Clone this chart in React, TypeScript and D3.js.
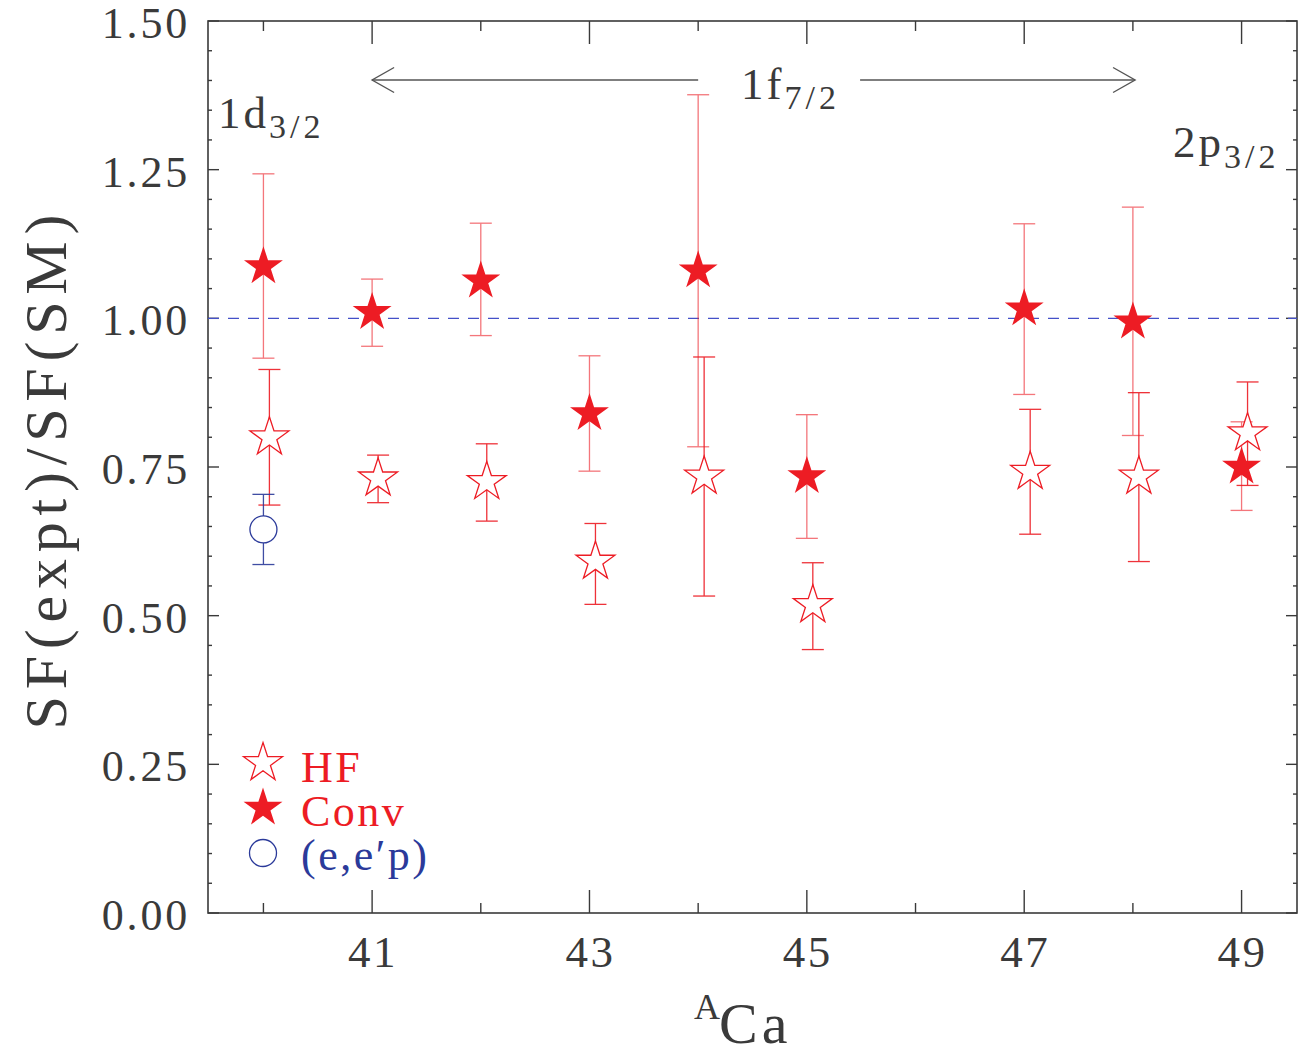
import React from "react";
import * as d3 from "d3";

// mass numbers of the Ca isotopes
const masses = [40, 41, 42, 43, 44, 45, 47, 48, 49];

// HF (open stars)
const hfValues = [0.8, 0.731, 0.725, 0.591, 0.734, 0.518, 0.742, 0.734, 0.807];
const hfLow = [0.686, 0.69, 0.659, 0.519, 0.533, 0.443, 0.637, 0.591, 0.719];
const hfHigh = [0.914, 0.77, 0.789, 0.655, 0.935, 0.589, 0.847, 0.875, 0.893];

// Conv (filled stars)
const convValues = [1.087, 1.01, 1.063, 0.84, 1.08, 0.734, 1.016, 0.994, 0.75];
const convLow = [0.933, 0.953, 0.971, 0.743, 0.784, 0.63, 0.872, 0.803, 0.677];
const convHigh = [1.243, 1.066, 1.16, 0.937, 1.376, 0.838, 1.159, 1.187, 0.826];

// (e,e'p)
const eepMasses = [40];
const eepValues = [0.645];
const eepLow = [0.586];
const eepHigh = [0.704];

const yTickLabels = [0, 0.25, 0.5, 0.75, 1.0, 1.25, 1.5];
const xTickLabels = [41, 43, 45, 47, 49];
const xMinorTicks = [40, 42, 44, 46, 48];

const W = 1309, H = 1055;
const margin = { top: 21, right: 12, bottom: 142, left: 208 };
const RED = "#ed1c24";
const BLUE = "#2b3a9a";
const INK = "#3a3a3a";
const FONT = "'Liberation Serif', serif";

export default function App() {
  const x = d3.scaleLinear().domain([39.49, 49.51]).range([margin.left, W - margin.right]);
  const y = d3.scaleLinear().domain([0, 1.5]).range([H - margin.bottom, margin.top]);
  const x0 = x.range()[0], x1 = x.range()[1];
  const y0 = y.range()[0], y1 = y.range()[1];

  const hfShift = 0.055; // open stars sit a little to the right
  const starPath = d3.symbol(d3.symbolStar, 470)() as string;
  const capW = 11;

  const yMinor = d3.range(0, 1.5001, 0.05);
  const isMajorY = (v: number) => Math.abs(v / 0.25 - Math.round(v / 0.25)) < 1e-6;

  const errBar = (cx: number, lo: number, hi: number, color: string, key: string, op = 0.85) => (
    <g key={key} stroke={color} strokeWidth={1.3} opacity={op}>
      <line x1={cx} x2={cx} y1={y(lo)} y2={y(hi)} />
      <line x1={cx - capW} x2={cx + capW} y1={y(lo)} y2={y(lo)} />
      <line x1={cx - capW} x2={cx + capW} y1={y(hi)} y2={y(hi)} />
    </g>
  );

  const arrowY = 80;
  const chev = (tx: number, dir: number) =>
    `M${tx + dir * 22},${arrowY - 12.5}L${tx},${arrowY}L${tx + dir * 22},${arrowY + 12.5}`;

  return (
    <div style={{ position: "absolute", left: 0, top: 0 }}>
      <svg width={W} height={H} style={{ display: "block", background: "#fff" }} fontFamily={FONT}>
        {/* frame */}
        <rect x={x0} y={y1} width={x1 - x0} height={y0 - y1} fill="none" stroke={INK} strokeWidth={1.6} />

        {/* y ticks, left and right */}
        {yMinor.map((v, i) => {
          const len = isMajorY(v) ? 11 : 4;
          return (
            <g key={"yt" + i} stroke={INK} strokeWidth={1.4}>
              <line x1={x0} x2={x0 + len} y1={y(v)} y2={y(v)} />
              <line x1={x1} x2={x1 - len} y1={y(v)} y2={y(v)} />
            </g>
          );
        })}
        {/* x ticks, bottom and top */}
        {xTickLabels.map((m) => (
          <g key={"xM" + m} stroke={INK} strokeWidth={1.4}>
            <line x1={x(m)} x2={x(m)} y1={y0} y2={y0 - 23} />
            <line x1={x(m)} x2={x(m)} y1={y1} y2={y1 + 23} />
          </g>
        ))}
        {xMinorTicks.map((m) => (
          <g key={"xm" + m} stroke={INK} strokeWidth={1.4}>
            <line x1={x(m)} x2={x(m)} y1={y0} y2={y0 - 10} />
            <line x1={x(m)} x2={x(m)} y1={y1} y2={y1 + 10} />
          </g>
        ))}

        {/* tick labels */}
        {yTickLabels.map((v) => (
          <text key={"yl" + v} x={190} y={y(v) + 17} textAnchor="end" fontSize={44}
            letterSpacing={2.8} fill={INK}>{v.toFixed(2)}</text>
        ))}
        {xTickLabels.map((m) => (
          <text key={"xl" + m} x={x(m) + 1} y={967} textAnchor="middle" fontSize={45}
            letterSpacing={2.5} fill={INK}>{m}</text>
        ))}

        {/* axis titles */}
        <text transform="translate(66,472) rotate(-90)" textAnchor="middle" fontSize={60}
          textLength={515} lengthAdjust="spacing" fill={INK}>SF(expt)/SF(SM)</text>
        <text x={694} y={1019} fontSize={36} fill={INK}>A</text>
        <text x={719} y={1043} fontSize={58} letterSpacing={4} fill={INK}>Ca</text>

        {/* reference line */}
        <line x1={x0} x2={x1} y1={y(1)} y2={y(1)} stroke="#4450c8" strokeWidth={1.3} strokeDasharray="11,9" />

        {/* shell annotations */}
        <text x={218} y={128} fontSize={45} letterSpacing={3} fill={INK}>
          1d<tspan fontSize={34} dy={10} letterSpacing={4}>3/2</tspan>
        </text>
        <text x={741} y={99} fontSize={45} letterSpacing={3} fill={INK}>
          1f<tspan fontSize={34} dy={10} letterSpacing={4}>7/2</tspan>
        </text>
        <text x={1173} y={157} fontSize={45} letterSpacing={3} fill={INK}>
          2p<tspan fontSize={34} dy={11} letterSpacing={4}>3/2</tspan>
        </text>
        <g stroke="#555" strokeWidth={1.4} fill="none">
          <line x1={x(41)} x2={x(44)} y1={arrowY} y2={arrowY} />
          <path d={chev(x(41), 1)} />
          <line x1={x(45.49)} x2={x(48.02)} y1={arrowY} y2={arrowY} />
          <path d={chev(x(48.02), -1)} />
        </g>

        {/* error bars */}
        {masses.map((m, i) => errBar(x(m), convLow[i], convHigh[i], RED, "ce" + i, 0.6))}
        {masses.map((m, i) => errBar(x(m + hfShift), hfLow[i], hfHigh[i], RED, "he" + i, 0.9))}
        {eepMasses.map((m, i) => errBar(x(m), eepLow[i], eepHigh[i], BLUE, "ee" + i, 0.9))}

        {/* HF open stars */}
        {masses.map((m, i) => (
          <path key={"hf" + i} d={starPath} transform={`translate(${x(m + hfShift)},${y(hfValues[i])})`}
            fill="#fff" stroke={RED} strokeWidth={1.3} />
        ))}
        {/* Conv filled stars */}
        {masses.map((m, i) => (
          <path key={"cv" + i} d={starPath} transform={`translate(${x(m)},${y(convValues[i])})`}
            fill={RED} />
        ))}
        {/* (e,e'p) circles */}
        {eepMasses.map((m, i) => (
          <circle key={"ep" + i} cx={x(m)} cy={y(eepValues[i])} r={13.5} fill="#fff" stroke={BLUE} strokeWidth={1.3} />
        ))}

        {/* legend */}
        <path d={starPath} transform="translate(263,763)" fill="#fff" stroke={RED} strokeWidth={1.3} />
        <text x={301} y={782} fontSize={44} letterSpacing={2.5} fill={RED}>HF</text>
        <path d={starPath} transform="translate(263,808)" fill={RED} />
        <text x={301} y={826} fontSize={44} letterSpacing={2.5} fill={RED}>Conv</text>
        <circle cx={263} cy={853} r={13.5} fill="none" stroke={BLUE} strokeWidth={1.3} />
        <text x={301} y={870} fontSize={44} letterSpacing={2.5} fill={BLUE}>(e,e′p)</text>
      </svg>
    </div>
  );
}
